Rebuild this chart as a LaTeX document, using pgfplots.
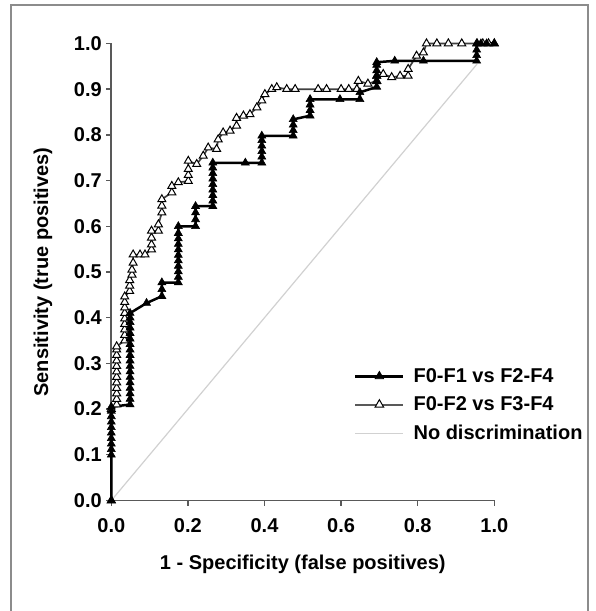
\documentclass[border=0pt]{standalone}
\usepackage{fontspec}
\setmainfont{Liberation Sans}
\usepackage{pgfplots}
\pgfplotsset{compat=1.18}
\pgfplotstableread{
x y
0 0
0 0.10
0 0.112
0 0.124
0 0.136
0 0.148
0 0.160
0 0.172
0 0.184
0 0.196
0 0.205
0.049 0.21
0.049 0.222
0.049 0.234
0.049 0.246
0.049 0.258
0.049 0.270
0.049 0.282
0.049 0.294
0.049 0.306
0.049 0.318
0.049 0.330
0.049 0.342
0.049 0.354
0.049 0.366
0.049 0.378
0.049 0.390
0.049 0.400
0.049 0.410
0.092 0.432
0.132 0.447
0.132 0.462
0.132 0.477
0.175 0.477
0.175 0.489
0.175 0.501
0.175 0.513
0.175 0.525
0.175 0.537
0.175 0.549
0.175 0.561
0.175 0.573
0.175 0.585
0.175 0.600
0.220 0.600
0.220 0.615
0.220 0.630
0.220 0.644
0.265 0.644
0.265 0.656
0.265 0.668
0.265 0.680
0.265 0.692
0.265 0.704
0.265 0.716
0.265 0.728
0.265 0.739
0.350 0.739
0.393 0.739
0.393 0.752
0.393 0.764
0.393 0.776
0.393 0.788
0.393 0.798
0.475 0.798
0.475 0.810
0.475 0.822
0.475 0.834
0.519 0.842
0.519 0.854
0.519 0.866
0.519 0.878
0.597 0.878
0.649 0.878
0.649 0.893
0.693 0.905
0.693 0.917
0.693 0.929
0.693 0.941
0.693 0.953
0.693 0.959
0.740 0.962
0.815 0.962
0.954 0.962
0.954 0.974
0.954 0.986
0.954 1.0
0.965 1.0
0.980 1.0
1.0 1.0
}\seriesA
\pgfplotstableread{
x y
0 0
0 0.20
0.014 0.210
0.014 0.222
0.014 0.234
0.014 0.246
0.014 0.258
0.014 0.270
0.014 0.282
0.014 0.294
0.014 0.306
0.014 0.318
0.014 0.330
0.014 0.337
0.035 0.350
0.035 0.362
0.035 0.374
0.035 0.386
0.035 0.398
0.035 0.410
0.035 0.422
0.035 0.434
0.035 0.446
0.048 0.458
0.048 0.470
0.048 0.482
0.054 0.494
0.054 0.505
0.057 0.520
0.057 0.538
0.075 0.538
0.088 0.538
0.105 0.549
0.105 0.560
0.105 0.575
0.105 0.590
0.123 0.590
0.123 0.604
0.132 0.630
0.132 0.645
0.132 0.659
0.158 0.674
0.158 0.688
0.175 0.696
0.201 0.699
0.201 0.712
0.201 0.725
0.201 0.743
0.223 0.736
0.240 0.754
0.253 0.772
0.275 0.769
0.279 0.790
0.292 0.805
0.310 0.809
0.327 0.820
0.327 0.837
0.345 0.842
0.362 0.845
0.380 0.860
0.393 0.875
0.401 0.889
0.419 0.900
0.432 0.904
0.458 0.900
0.480 0.900
0.540 0.900
0.562 0.900
0.600 0.900
0.620 0.900
0.641 0.900
0.645 0.918
0.670 0.912
0.693 0.918
0.693 0.929
0.710 0.933
0.732 0.926
0.754 0.929
0.775 0.929
0.775 0.944
0.797 0.973
0.815 0.980
0.823 1.0
0.850 1.0
0.880 1.0
0.915 1.0
0.955 1.0
0.970 1.0
0.985 1.0
1.0 1.0
}\seriesB
\pgfplotstableread{
x y
0 0
0.955 0.955
}\seriesC
\begin{document}
\begin{tikzpicture}[x=1pt,y=1pt]
\path[use as bounding box] (0,0) rectangle (595,611);
\draw[black!45, line width=1.6pt] (11,-5) -- (11,606) -- (588,606) -- (588,-5);
\begin{axis}[
  at={(111.3pt,110.5pt)}, anchor=south west,
  width=383pt, height=457pt, scale only axis,
  xmin=0, xmax=1, ymin=0, ymax=1,
  axis lines*=left,
  axis line style={draw=black!65, line width=1.6pt},
  every tick/.style={draw=black!65, line width=1.4pt},
  tick align=outside, major tick length=5pt,
  xtick={0,0.2,0.4,0.6,0.8,1},
  ytick={0,0.1,0.2,0.3,0.4,0.5,0.6,0.7,0.8,0.9,1},
  clip=false,
  /pgf/number format/assume math mode=true,
  /pgf/number format/fixed, /pgf/number format/fixed zerofill, /pgf/number format/precision=1,
  tick label style={font=\fontsize{20}{23}\selectfont\bfseries},
  xticklabel style={yshift=-10pt},
  yticklabel style={xshift=-1pt},
  xlabel={1 - Specificity (false positives)},
  ylabel={Sensitivity (true positives)},
  label style={font=\fontsize{20}{23}\selectfont\bfseries},
  xlabel style={at={(axis description cs:0.5,-0.139)}, anchor=center},
  ylabel style={at={(axis description cs:-0.1783,0.5)}, anchor=center},
  legend style={draw=none, fill=none, at={(axis cs:0.625,0.298)}, anchor=north west,
    font=\fontsize{20}{23}\selectfont\bfseries, row sep=9pt},
  legend cell align=left,
]
\addplot[forget plot, color=black!18, line width=1.2pt] table {\seriesC};
\addplot[forget plot, color=black!75, line width=1.7pt, mark=triangle*, mark size=4.6pt,
  mark options={solid, fill=white, draw=black, line width=1pt}] table {\seriesB};
\addplot[forget plot, color=black, line width=2.5pt, mark=triangle*, mark size=4.6pt,
  mark options={solid, fill=black, draw=black, line width=0.6pt}] table {\seriesA};
\addlegendimage{legend image code/.code={\draw[black, line width=3pt] (0pt,0pt) -- (48pt,0pt); \draw[black, fill=black, line width=0.6pt] plot[mark=triangle*, mark size=5pt] coordinates {(24pt,0pt)}; \path (56pt,0pt);}}
\addlegendentry{F0-F1 vs F2-F4}
\addlegendimage{legend image code/.code={\draw[black!65, line width=1.8pt] (0pt,0pt) -- (48pt,0pt); \draw[black, fill=white, line width=1pt] plot[mark=triangle*, mark size=5pt] coordinates {(24pt,0pt)}; \path (56pt,0pt);}}
\addlegendentry{F0-F2 vs F3-F4}
\addlegendimage{legend image code/.code={\draw[black!18, line width=1.2pt] (0pt,0pt) -- (48pt,0pt); \path (56pt,0pt);}}
\addlegendentry{No discrimination}
\end{axis}
\end{tikzpicture}
\end{document}
